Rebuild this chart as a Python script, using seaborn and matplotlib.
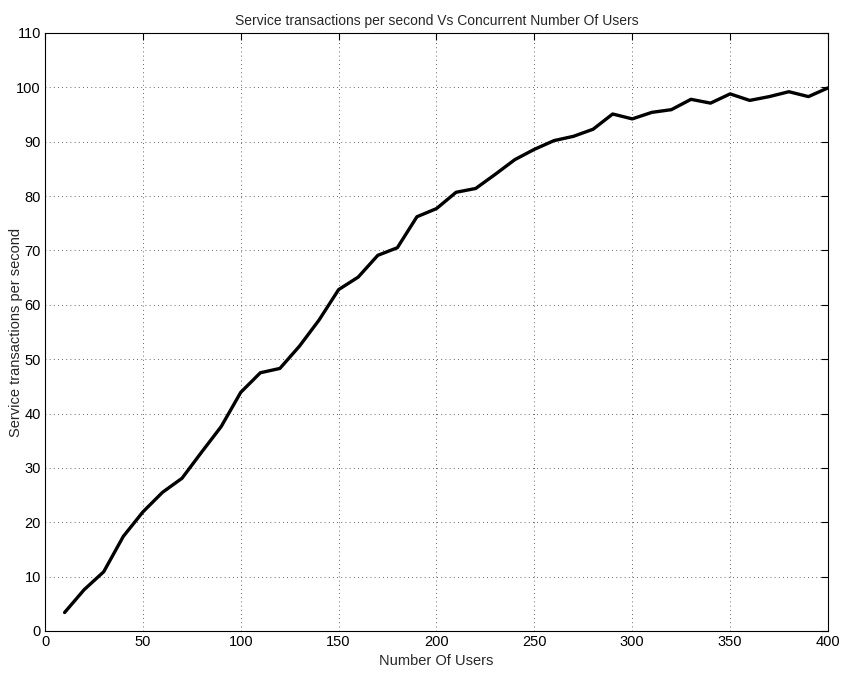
import numpy as np
import pandas as pd
import matplotlib
matplotlib.use("Agg")
import matplotlib.pyplot as plt
import seaborn as sns

users = list(range(10, 401, 10))
tps = [3.4, 7.6, 10.9, 17.4, 21.9, 25.5, 28.1, 32.9, 37.6, 43.9,
       47.5, 48.3, 52.4, 57.2, 62.8, 65.1, 69.1, 70.5, 76.2, 77.7,
       80.7, 81.4, 84.0, 86.7, 88.6, 90.2, 91.0, 92.3, 95.1, 94.2,
       95.4, 95.9, 97.8, 97.1, 98.8, 97.6, 98.3, 99.2, 98.3, 99.9]

df = pd.DataFrame({"users": users, "tps": tps})

sns.set_style("white")
plt.rcParams['font.family'] = ['Liberation Sans', 'DejaVu Sans']

fig = plt.figure(figsize=(8.41, 6.79), dpi=100)
ax = fig.add_axes([45/841, 1 - 631/679, (828-45)/841, (631-33)/679])

sns.lineplot(data=df, x="users", y="tps", color="black", linewidth=2.4, ax=ax)

ax.set_xlim(0, 400)
ax.set_ylim(0, 110)
ax.set_xticks(np.arange(0, 401, 50))
ax.set_yticks(np.arange(0, 111, 10))
ax.grid(True, linestyle=(0, (1, 4)), color="black", linewidth=0.6, alpha=0.8)
ax.tick_params(direction="in", length=5, labelsize=10.5, top=True, right=True,
               labeltop=False, labelright=False, colors="black", pad=3)
for s in ax.spines.values():
    s.set_color("black")
    s.set_linewidth(0.8)

ax.set_title("Service transactions per second Vs Concurrent Number Of Users", fontsize=10, pad=6)
ax.set_xlabel("Number Of Users", fontsize=10.5)
ax.set_ylabel("Service transactions per second", fontsize=10.5)
ax.yaxis.set_label_coords(-0.028, 0.5)
ax.xaxis.set_label_coords(0.5, -0.038)

fig.savefig("out.png", dpi=100)
